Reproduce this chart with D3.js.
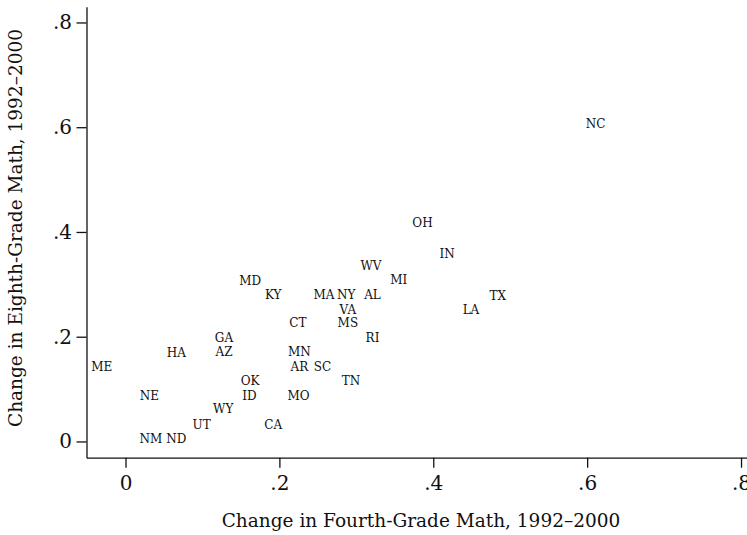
<!DOCTYPE html>
<html>
<head>
<meta charset="utf-8">
<script src="https://cdn.jsdelivr.net/npm/d3@7/dist/d3.min.js"></script>
<style>
  html, body { margin: 0; padding: 0; background: #fff; }
  svg { display: block; }
  text { font-family: "DejaVu Serif", "Liberation Serif", serif; fill: #111; }
</style>
</head>
<body>
<svg id="chart" width="747" height="535"></svg>
<script>
// State abbreviations
const states = ["NC","OH","IN","WV","MI","MD","KY","MA","NY","AL","TX","VA","LA","CT","MS","GA","RI","HA","AZ","MN","ME","AR","SC","OK","TN","NE","ID","MO","WY","UT","CA","NM","ND"];
// Change in fourth-grade math, 1992-2000
const fourth = [0.611,0.386,0.418,0.319,0.355,0.162,0.192,0.258,0.287,0.321,0.484,0.289,0.449,0.224,0.289,0.128,0.321,0.066,0.128,0.226,-0.031,0.226,0.256,0.162,0.293,0.031,0.161,0.225,0.127,0.099,0.192,0.033,0.066];
// Change in eighth-grade math, 1992-2000
const eighth = [0.607,0.417,0.359,0.335,0.308,0.307,0.280,0.280,0.280,0.280,0.278,0.251,0.251,0.227,0.227,0.199,0.199,0.170,0.171,0.172,0.142,0.142,0.142,0.116,0.116,0.087,0.087,0.087,0.062,0.033,0.033,0.005,0.005];
const xTicks = [0, 0.2, 0.4, 0.6, 0.8];
const yTicks = [0, 0.2, 0.4, 0.6, 0.8];
const xTitle = "Change in Fourth-Grade Math, 1992\u20132000";
const yTitle = "Change in Eighth-Grade Math, 1992\u20132000";

const svg = d3.select("#chart");
const xDomain = [-0.0507, 0.81];
const yDomain = [-0.031, 0.83];
const x = d3.scaleLinear().domain(xDomain).range([86.5, 86.5 + (xDomain[1]-xDomain[0]) * 769.4]);
const y = d3.scaleLinear().domain(yDomain).range([457.7, 457.7 - (yDomain[1]-yDomain[0]) * 523.75]);

const fmt = d => d === 0 ? "0" : d3.format(".1f")(d).replace(/^0/, "");

const gx = svg.append("g")
  .attr("transform", `translate(0,${y(yDomain[0])})`)
  .call(d3.axisBottom(x).tickValues(xTicks).tickFormat(fmt).tickSize(10).tickSizeOuter(0).tickPadding(8));
const gy = svg.append("g")
  .attr("transform", `translate(${x(xDomain[0])},0)`)
  .call(d3.axisLeft(y).tickValues(yTicks).tickFormat(fmt).tickSize(10).tickSizeOuter(0).tickPadding(4.5));

[gx, gy].forEach(g => {
  g.selectAll("path.domain").attr("stroke", "#111").attr("stroke-width", 1.3);
  g.selectAll(".tick line").attr("stroke", "#111").attr("stroke-width", 1.3);
  g.selectAll(".tick text").attr("font-size", 20).attr("fill", "#111")
    .style("font-family", '"DejaVu Serif", serif');
});

const data = states.map((s, i) => ({ s, x: fourth[i], y: eighth[i] }));
svg.append("g").selectAll("text").data(data).join("text")
  .attr("x", d => x(d.x))
  .attr("y", d => y(d.y))
  .attr("dy", "0.36em")
  .attr("text-anchor", "middle")
  .attr("font-size", 12)
  .text(d => d.s);

svg.append("text")
  .attr("x", 421).attr("y", 527)
  .attr("text-anchor", "middle")
  .attr("font-size", 18.5)
  .text(xTitle);

svg.append("text")
  .attr("transform", "translate(22,228) rotate(-90)")
  .attr("text-anchor", "middle")
  .attr("font-size", 18.5)
  .text(yTitle);
</script>
</body>
</html>
